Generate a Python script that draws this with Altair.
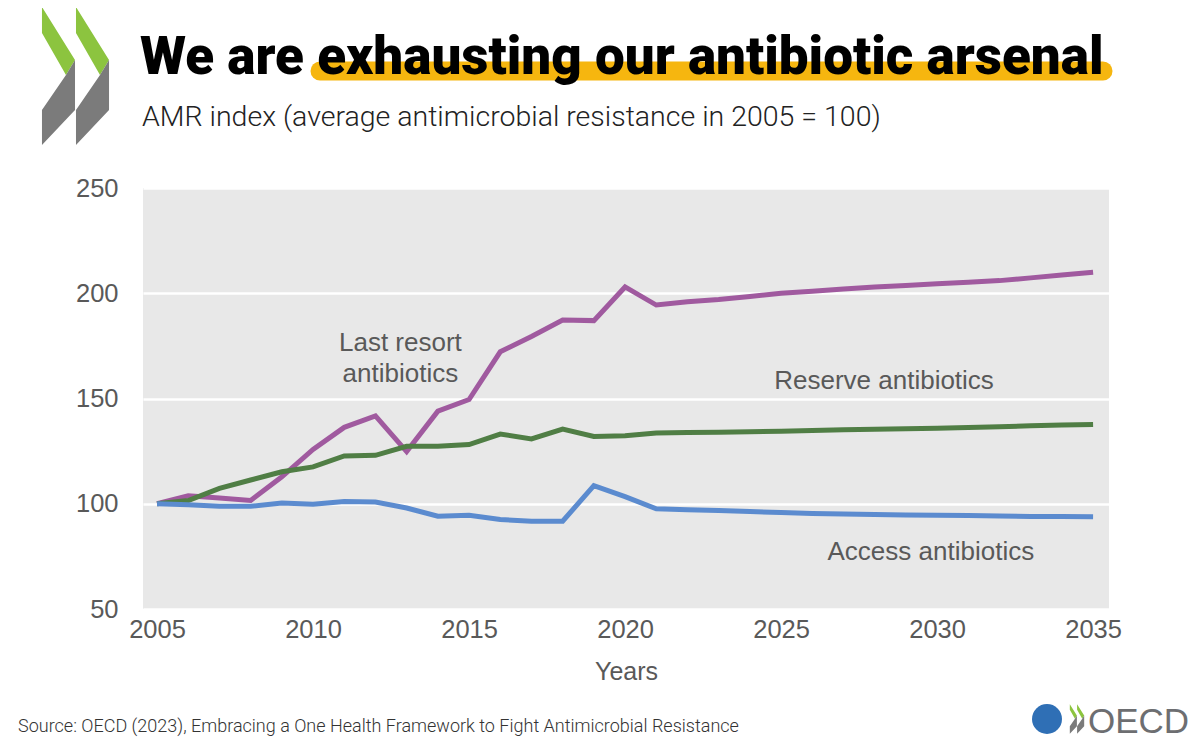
import altair as alt
import pandas as pd

# ---- data ----
years = list(range(2005, 2036))
last_resort = [100, 103.8, 102.7, 101.6, 112.8, 125.8, 136.3, 141.7, 124.8, 144, 149.5,
               172.2, 179.5, 187.3, 187, 203, 194.4,
               196, 197, 198.5, 200, 201, 202, 203, 203.7, 204.5, 205.2, 206, 207.3, 208.7, 210]
reserve = [100, 101.5, 107.3, 111.3, 115.2, 117.5, 122.7, 123, 127.3, 127.3, 128.1,
           133.1, 130.8, 135.5, 132, 132.3, 133.6,
           133.8, 134, 134.2, 134.5, 134.8, 135.1, 135.4, 135.6, 135.9, 136.2, 136.6, 137, 137.4, 137.7]
access = [100, 99.5, 98.8, 98.8, 100.3, 99.8, 101.1, 100.8, 98, 94.1, 94.5,
          92.5, 91.7, 91.7, 108.6, 103.4, 97.6,
          97.2, 96.8, 96.3, 95.8, 95.4, 95.1, 94.9, 94.7, 94.5, 94.4, 94.2, 94, 93.9, 93.8]

series_names = ["Last resort antibiotics", "Reserve antibiotics", "Access antibiotics"]
series_colors = ["#a05a9f", "#507e45", "#5b8bcf"]

x_ticks = [2005, 2010, 2015, 2020, 2025, 2030, 2035]
y_ticks = [50, 100, 150, 200, 250]

label_text = ["Last resort\nantibiotics", "Reserve antibiotics", "Access antibiotics"]
label_year = [2012.8, 2028.3, 2029.8]
label_value = [176.4, 158.3, 77.1]

title_text = "We are exhausting our antibiotic arsenal"
subtitle_text = "AMR index (average antimicrobial resistance in 2005 = 100)"
source_text = "Source: OECD (2023), Embracing a One Health Framework to Fight Antimicrobial Resistance"

rows = []
for name, vals in zip(series_names, [last_resort, reserve, access]):
    for y, v in zip(years, vals):
        rows.append({"year": y, "value": v, "series": name})
df = pd.DataFrame(rows)
labels_df = pd.DataFrame({"t": label_text, "year": label_year, "value": label_value})

W, H = 966, 421
AXFONT = "Liberation Sans, Arial, sans-serif"
SANS = "Roboto, sans-serif"
GRAY = "#595959"

xscale = alt.Scale(domain=[2004.55, 2035.51], nice=False, zero=False)
yscale = alt.Scale(domain=[50, 250], nice=False, zero=False)

lines = alt.Chart(df).mark_line(strokeWidth=5).encode(
    x=alt.X("year:Q", scale=xscale,
            axis=alt.Axis(values=x_ticks, format="d", title="Years", grid=False,
                          domain=False, ticks=False, labelFontSize=25.5, labelColor=GRAY,
                          labelFont=AXFONT, labelPadding=8, titleFontSize=25,
                          titleFont=AXFONT, titleColor=GRAY, titleFontWeight="normal",
                          titlePadding=17)),
    y=alt.Y("value:Q", scale=yscale,
            axis=alt.Axis(values=y_ticks, title=None, grid=True, gridColor="white",
                          gridWidth=2.5, domain=False, ticks=False, labelFontSize=25.5,
                          labelColor=GRAY, labelFont=AXFONT, labelPadding=25)),
    color=alt.Color("series:N", scale=alt.Scale(domain=series_names, range=series_colors),
                    legend=None),
    detail="series:N",
)

annot = alt.Chart(labels_df).mark_text(fontSize=26, font=AXFONT, color=GRAY,
                                       lineBreak="\n", lineHeight=31, align="center",
                                       baseline="middle").encode(
    x=alt.X("year:Q", scale=xscale), y=alt.Y("value:Q", scale=yscale), text="t:N")


def text_at(txt, x, y, **kw):
    return alt.Chart(pd.DataFrame({"t": [txt]})).mark_text(**kw).encode(
        text="t:N", x=alt.value(x), y=alt.value(y))


highlight = alt.Chart(pd.DataFrame({"k": [0]})).mark_rule(
    color="#f6b60f", strokeWidth=19, strokeCap="round").encode(
    x=alt.value(177), x2=alt.value(960), y=alt.value(-117), y2=alt.value(-117))

title = text_at(title_text, -3, -114, align="left", baseline="alphabetic", fontSize=53,
                font=SANS, fontWeight=900, color="#000000")
subtitle = text_at(subtitle_text, -1, -62, align="left", baseline="alphabetic", fontSize=28.5,
                   font=SANS, fontWeight=300, color="#222222")
source = text_at(source_text, -125, 544, align="left", baseline="alphabetic", fontSize=18,
                 font=SANS, fontWeight=300, color="#333333")
oecd = text_at("OECD", 945, 545, align="left", baseline="alphabetic", fontSize=35,
               font=AXFONT, color="#6d6e71")

green_path = ("M -0.479 -0.986 L -0.007 -0.229 L -0.136 -0.014 L -0.479 -0.614 Z "
              "M 0.007 -0.986 L 0.479 -0.229 L 0.35 -0.014 L 0.007 -0.614 Z")
gray_path = ("M -0.007 -0.229 L -0.007 0.486 L -0.479 0.986 L -0.479 0.486 L -0.136 -0.014 Z "
             "M 0.479 -0.229 L 0.479 0.486 L 0.007 0.986 L 0.007 0.486 L 0.35 -0.014 Z")


def logo_part(path, color, x, y, size):
    return alt.Chart(pd.DataFrame({"k": [0]})).mark_point(
        shape=path, size=size, filled=True, fill=color, strokeWidth=0, opacity=1).encode(
        x=alt.value(x), y=alt.value(y))


chev_big_g = logo_part(green_path, "#8cc43f", -67.5, -112, 19600)
chev_big_k = logo_part(gray_path, "#7b7b7b", -67.5, -112, 19600)
chev_small_g = logo_part(green_path, "#8cc43f", 934, 531, 900)
chev_small_k = logo_part(gray_path, "#7b7b7b", 934, 531, 900)
globe = alt.Chart(pd.DataFrame({"k": [0]})).mark_point(
    shape="circle", size=900, filled=True, fill="#2f6fb5", strokeWidth=0, opacity=1).encode(
    x=alt.value(904), y=alt.value(531))

chart = alt.layer(
    lines, annot, highlight, title, subtitle, source, oecd,
    chev_big_g, chev_big_k, chev_small_g, chev_small_k, globe
).properties(
    width=W, height=H,
    autosize=alt.AutoSizeParams(type="none"),
    padding={"left": 135, "top": 180, "right": 83, "bottom": 131},
    background="white",
).configure_view(fill="#e8e8e8", strokeWidth=0)

chart.save("out.html", embed_options={"renderer": "svg", "actions": False})
